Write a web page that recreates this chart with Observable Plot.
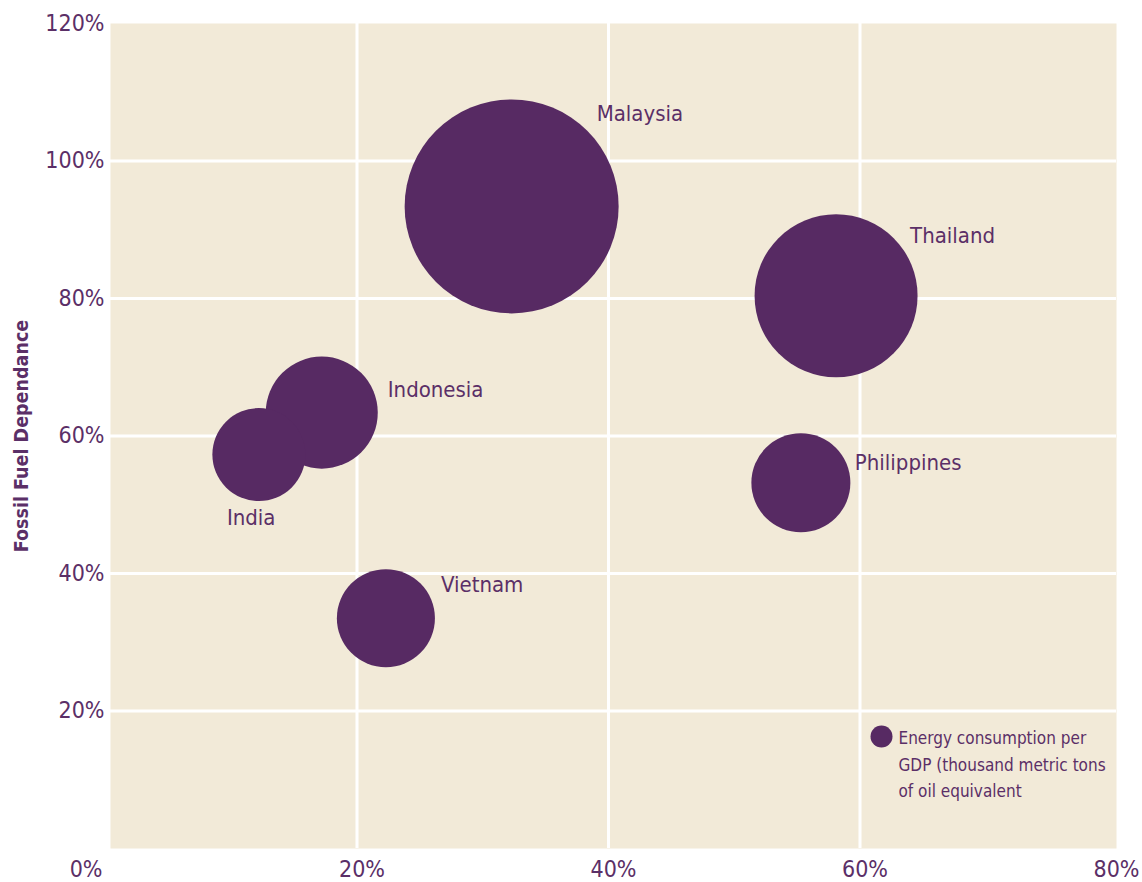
<!DOCTYPE html>
<html>
<head>
<meta charset="utf-8">
<script src="https://cdn.jsdelivr.net/npm/d3@7"></script>
<script src="https://cdn.jsdelivr.net/npm/@observablehq/plot@0.6"></script>
<style>
  html, body { margin: 0; padding: 0; background: #ffffff; }
  #chart svg { display: block; }
</style>
</head>
<body>
<div id="chart"></div>
<script>
// ---- Data ----
const countries = ["Malaysia", "Thailand", "Indonesia", "India", "Philippines", "Vietnam"];
const xShare = [31.9, 57.7, 16.8, 11.8, 54.9, 21.9];          // x axis (%)
const fossilDependence = [93.4, 80.4, 63.4, 57.3, 53.2, 33.5]; // y axis (%)
const energyPerGDP = [100, 58, 27.4, 18.9, 21.4, 21.0];        // bubble size
const xTicks = [20, 40, 60, 80];
const yTicks = [20, 40, 60, 80, 100, 120];
const yLabel = "Fossil Fuel Dependance";
const legendLabel = "Energy consumption per\nGDP (thousand metric tons\nof oil equivalent";

// ---- Styling ----
const purple = "#572a63";
const textPurple = "#5b2f67";
const beige = "#f2ead8";
const font = "'Liberation Sans Narrow', 'DejaVu Sans Condensed', 'Arial Narrow', sans-serif";
const labelOffsets = {
  Malaysia: [85, -92],
  Thailand: [74, -60],
  Indonesia: [66, -23],
  India: [-32, 63],
  Philippines: [54, -20],
  Vietnam: [55, -33]
};

const data = countries.map((c, i) => ({
  country: c, x: xShare[i], y: fossilDependence[i], size: energyPerGDP[i]
}));

const chart = Plot.plot({
  width: 1142,
  height: 882,
  marginLeft: 110,
  marginRight: 26,
  marginTop: 23,
  marginBottom: 34,
  style: { fontFamily: font, color: textPurple, background: "#ffffff" },
  x: { domain: [0, 80] },
  y: { domain: [0, 120] },
  r: { domain: [0, d3.max(energyPerGDP)], range: [0, 107] },
  marks: [
    Plot.frame({ fill: beige, stroke: null }),
    Plot.gridX(xTicks.slice(0, 3), { stroke: "#ffffff", strokeWidth: 3, strokeOpacity: 1, dx: -5 }),
    Plot.gridY(yTicks.slice(0, 5), { stroke: "#ffffff", strokeWidth: 3, strokeOpacity: 1 }),
    Plot.axisX({ ticks: xTicks, tickFormat: d => d + "%", tickSize: 0, tickPadding: 12, fontSize: 23, fill: textPurple, label: null }),
    Plot.axisX({ ticks: [0], tickFormat: d => d + "%", tickSize: 0, tickPadding: 12, fontSize: 23, fill: textPurple, label: null, textAnchor: "end", dx: -8 }),
    Plot.axisY({ ticks: yTicks, tickFormat: d => d + "%", tickSize: 0, tickPadding: 6, fontSize: 23, fill: textPurple, label: null }),
    Plot.text([yLabel], {
      text: d => d, frameAnchor: "left", rotate: -90, dx: -89,
      textAnchor: "middle", lineAnchor: "middle",
      fontSize: 19.5, fontWeight: "bold", fill: textPurple
    }),
    Plot.dot(data, { x: "x", y: "y", r: "size", fill: purple, stroke: null }),
    ...countries.map(c => Plot.text(data.filter(d => d.country === c), {
      x: "x", y: "y", text: "country",
      dx: labelOffsets[c][0], dy: labelOffsets[c][1],
      textAnchor: "start", lineAnchor: "middle",
      fontSize: 22, fill: textPurple
    })),
    // legend
    Plot.dot([legendLabel], { frameAnchor: "bottom-right", dx: -235, dy: -112, r: 11, fill: purple, stroke: null }),
    Plot.text([legendLabel], {
      text: d => d, frameAnchor: "bottom-right", dx: -218, dy: -123,
      textAnchor: "start", lineAnchor: "top", lineHeight: 1.56,
      fontSize: 17, fill: textPurple
    })
  ]
});

document.getElementById("chart").appendChild(chart);
</script>
</body>
</html>
